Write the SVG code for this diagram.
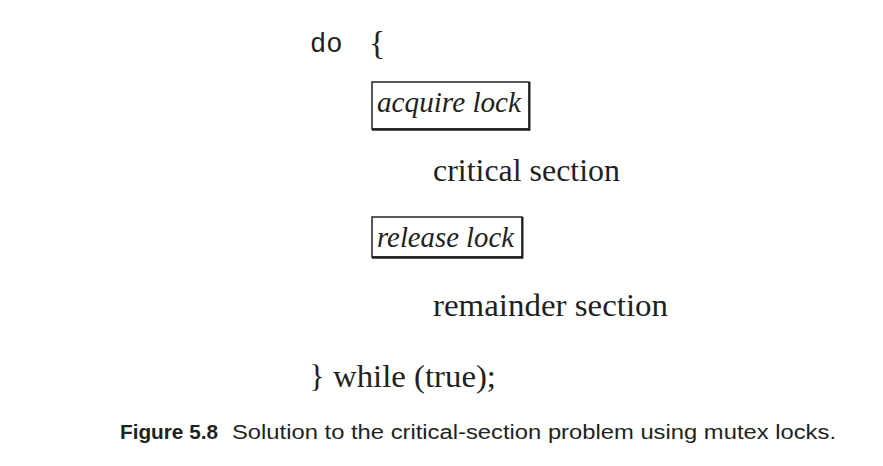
<svg xmlns="http://www.w3.org/2000/svg" width="883" height="466" viewBox="0 0 883 466">
<style>
.serif{font-family:"Liberation Serif","Times New Roman",serif;font-size:31px;fill:#231f20}
.ital{font-family:"Liberation Serif","Times New Roman",serif;font-style:italic;font-size:30px;fill:#231f20}
.mono{font-family:"Liberation Mono","Courier New",monospace;font-size:27px;fill:#231f20}
.box{fill:#fff;stroke:#231f20;stroke-width:1.5}
.cap{font-family:"Liberation Sans",Arial,sans-serif;font-size:20px;fill:#231f20}
</style>
<rect width="883" height="466" fill="#fff"/>
<g id="do">
<text class="mono" x="310" y="52">do</text>
<text class="serif" x="369" y="54" style="font-size:34px">{</text>
</g>
<g id="acquire">
<rect class="box" x="372" y="82" width="157" height="47"/>
<line x1="372" y1="129.5" x2="530" y2="129.5" stroke="#231f20" stroke-width="2.5"/>
<line x1="529.5" y1="82" x2="529.5" y2="130.5" stroke="#231f20" stroke-width="2"/>
<text class="ital" x="377" y="112" textLength="144" lengthAdjust="spacingAndGlyphs">acquire lock</text>
</g>
<g id="critical">
<text class="serif" x="433" y="181" textLength="187" lengthAdjust="spacingAndGlyphs">critical section</text>
</g>
<g id="release">
<rect class="box" x="372" y="217" width="150" height="40"/>
<line x1="372" y1="257.5" x2="523" y2="257.5" stroke="#231f20" stroke-width="2.5"/>
<line x1="522.5" y1="217" x2="522.5" y2="258.5" stroke="#231f20" stroke-width="2"/>
<text class="ital" x="377" y="247" textLength="137" lengthAdjust="spacingAndGlyphs">release lock</text>
</g>
<g id="remainder">
<text class="serif" x="433" y="316" textLength="235" lengthAdjust="spacingAndGlyphs">remainder section</text>
</g>
<g id="while">
<text class="serif" x="309" y="387" textLength="187" lengthAdjust="spacingAndGlyphs">} while (true);</text>
</g>
<g id="connectors"></g>
<g id="caption">
<text class="cap" x="120" y="439" font-weight="bold" textLength="98" lengthAdjust="spacingAndGlyphs">Figure 5.8</text>
<text class="cap" x="232" y="439" textLength="604" lengthAdjust="spacingAndGlyphs">Solution to the critical-section problem using mutex locks.</text>
</g>
</svg>
